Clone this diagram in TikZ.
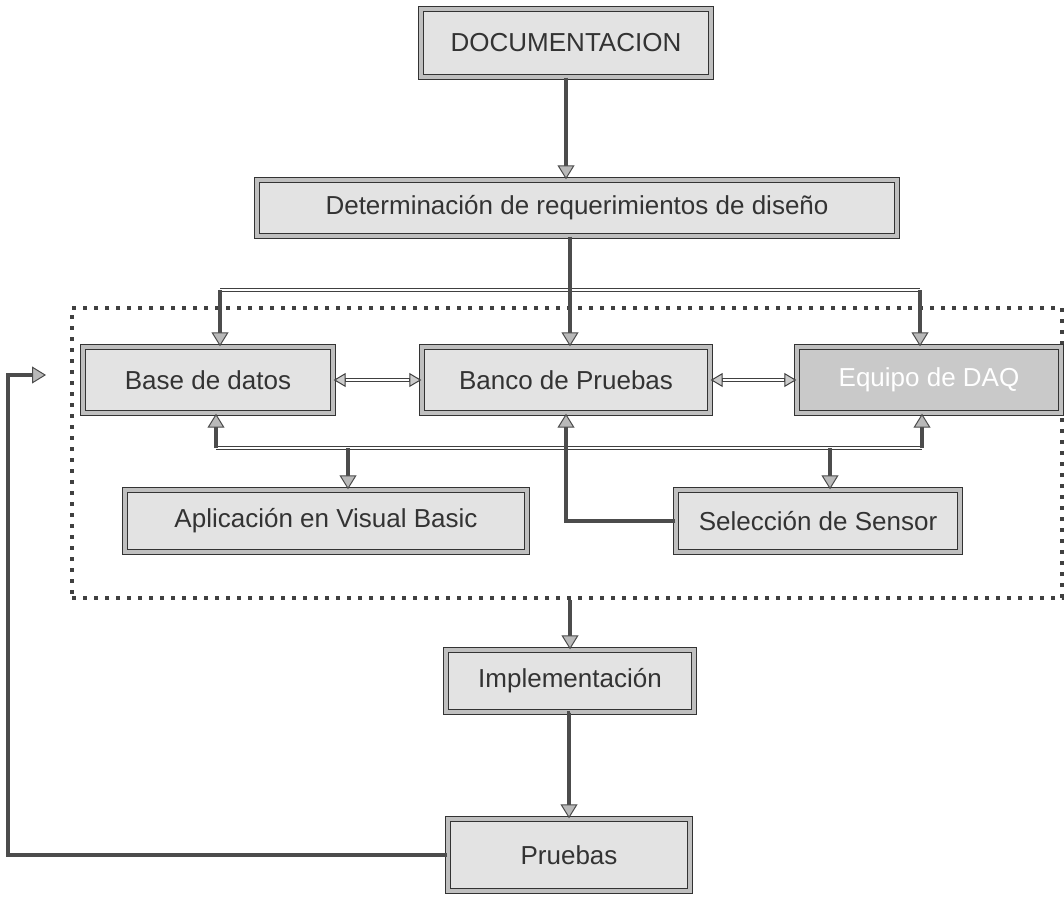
\documentclass[tikz,border=0pt]{standalone}
\usepackage{fontspec}
\setmainfont{Liberation Sans}
\usetikzlibrary{arrows.meta}

\tikzset{
  caja/.style={draw=black!80, line width=1.4pt, double=gray!50, double distance=3.2pt,
    fill=gray!22, inner sep=0pt, text=black!80, font=\fontsize{26}{30}\selectfont},
  flecha/.style={draw=black!70, line width=3.8pt,
    -{Triangle[width=17pt,length=14pt,line width=1pt,fill=gray!55]}},
  riel/.style={draw=black!75, line width=1pt, double=white, double distance=1.8pt},
  doble/.style={draw=black!75, line width=3.4pt,
    {Triangle[width=14pt,length=12pt,line width=1pt,fill=gray!40]}-{Triangle[width=14pt,length=12pt,line width=1pt,fill=gray!40]},
    postaction={draw=white, line width=1.4pt, arrows=-, shorten <=12pt, shorten >=12pt}},
  marco/.style={draw=black!75, line width=3.5pt, dash pattern=on 4pt off 7pt,
    inner sep=0pt}
}

\begin{document}
\begin{tikzpicture}[x=1pt, y=-1pt]
  \useasboundingbox (0,0) rectangle (1064,896);

  \node[marco, minimum width=990, minimum height=290] (grupo) at (567,453) {};

  \node[caja, minimum width=290, minimum height=68] (doc) at (566,43) {DOCUMENTACION};
  \node[caja, minimum width=640, minimum height=56] (det) at (577,208) {Determinación de requerimientos de diseño};
  \node[caja, minimum width=250, minimum height=66] (base) at (208,380) {Base de datos};
  \node[caja, minimum width=288, minimum height=66] (banco) at (566,380) {Banco de Pruebas};
  \node[caja, minimum width=264, minimum height=66, fill=gray!42, text=white] (daq) at (929,380) {Equipo de DAQ};
  \node[caja, minimum width=402, minimum height=62] (apli) at (326,521) {Aplicación en Visual Basic};
  \node[caja, minimum width=284, minimum height=62] (sel) at (818,521) {Selección de Sensor};
  \node[caja, minimum width=248, minimum height=62] (impl) at (570,681) {Implementación};
  \node[caja, minimum width=242, minimum height=72] (pruebas) at (569,855) {Pruebas};

  % reparto desde los requerimientos
  \draw[flecha] (doc.south) -- (doc.south |- det.north);
  \coordinate (b1) at (570,290);
  \coordinate (b1i) at (220,290);
  \coordinate (b1d) at (920,290);
  \draw[riel] (b1i) -- (b1d);
  \draw[draw=black!70, line width=3.8pt] (det.south -| b1) -- (b1);
  \draw[flecha] (b1i) -- (b1i |- base.north);
  \draw[flecha] (b1) -- (b1 |- banco.north);
  \draw[flecha] (b1d) -- (b1d |- daq.north);

  \draw[doble] (base.east) -- (banco.west);
  \draw[doble] (banco.east) -- (daq.west);

  % bus inferior
  \coordinate (b2i) at (216,448);
  \coordinate (b2d) at (922,448);
  \coordinate (b2a) at (348,448);
  \coordinate (b2s) at (830,448);
  \draw[riel] (b2i) -- (b2d);
  \draw[flecha] (b2i) -- (b2i |- base.south);
  \draw[flecha] (b2d) -- (b2d |- daq.south);
  \draw[flecha] (b2a) -- (b2a |- apli.north);
  \draw[flecha] (b2s) -- (b2s |- sel.north);
  \draw[flecha] (sel.west) -| (banco.south);

  \draw[flecha] (grupo.south -| impl.north) -- (impl.north);
  \draw[flecha] (impl.south) -- (impl.south -| pruebas.north) -- (pruebas.north);

  % retorno
  \coordinate (retorno) at (46,375);
  \draw[flecha] (pruebas.west) -| (8,375) -- (retorno);
\end{tikzpicture}
\end{document}
